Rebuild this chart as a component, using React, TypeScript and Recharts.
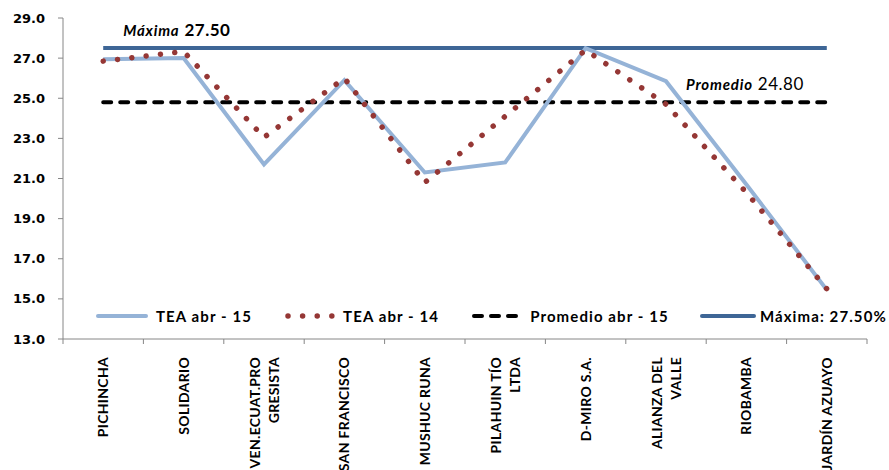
import React from 'react';
import { LineChart, Line, XAxis, YAxis, Legend } from 'recharts';

const categories = [
  'PICHINCHA',
  'SOLIDARIO',
  'VEN.ECUAT.PRO\nGRESISTA',
  'SAN FRANCISCO',
  'MUSHUC RUNA',
  'PILAHUIN TÍO\nLTDA',
  'D-MIRO S.A.',
  'ALIANZA DEL\nVALLE',
  'RIOBAMBA',
  'JARDÍN AZUAYO',
];
const teaAbr15 = [26.95, 27.0, 21.7, 25.9, 21.3, 21.8, 27.5, 25.85, 20.7, 15.45];
const teaAbr14 = [26.85, 27.33, 23.05, 26.0, 20.8, 24.1, 27.4, 24.7, 20.3, 15.5];
const promedioAbr15 = [24.8, 24.8, 24.8, 24.8, 24.8, 24.8, 24.8, 24.8, 24.8, 24.8];
const maxima = [27.5, 27.5, 27.5, 27.5, 27.5, 27.5, 27.5, 27.5, 27.5, 27.5];
const yTicks = [13, 15, 17, 19, 21, 23, 25, 27, 29];

const data = categories.map((name, i) => ({
  name,
  tea15: teaAbr15[i],
  tea14: teaAbr14[i],
  prom: promedioAbr15[i],
  max: maxima[i],
}));

const W = 889;
const H = 470;
const MARGIN = { top: 18, right: 22, left: 0, bottom: 0 };
const Y_AXIS_W = 63;
const BAND = (W - Y_AXIS_W - MARGIN.right) / categories.length;

const AXIS = '#868686';
const LIGHT_BLUE = '#95b3d7';
const DARK_RED = '#953735';
const MAX_BLUE = '#3e6696';
const FONT = 'Lato, "Open Sans", sans-serif';

const CategoryTick = (props: any) => {
  const { x, y, payload, index } = props;
  const lines = String(payload.value).split('\n');
  const offsets = lines.length === 1 ? [5] : [-4.5, 14.5];
  const half = BAND / 2;
  return (
    <g>
      <line x1={x - half} y1={y} x2={x - half} y2={y + 5} stroke={AXIS} />
      {index === categories.length - 1 && (
        <line x1={x + half} y1={y} x2={x + half} y2={y + 5} stroke={AXIS} />
      )}
      <text
        transform={`translate(${x},${y + 18}) rotate(-90)`}
        textAnchor="end"
        fontFamily={FONT}
        fontWeight="bold"
        fontSize={14}
        letterSpacing={0.3}
        fill="#000"
      >
        {lines.map((l, i) => (
          <tspan key={i} x={0} y={offsets[i]}>
            {l}
          </tspan>
        ))}
      </text>
    </g>
  );
};

// data label shown on a single point only, like the Excel callouts
const pointLabel = (at: number, title: string, value: string, valueBold: boolean) => (props: any) => {
  const { x, y, index } = props;
  if (index !== at) return null;
  return (
    <text x={x + 20} y={y - 12} fontFamily={FONT} fill="#000">
      <tspan fontStyle="italic" fontWeight="bold" fontSize={15} letterSpacing={0.8}>
        {title}
      </tspan>
      <tspan dx={5} fontWeight={valueBold ? 'bold' : 'normal'} fontSize={17} letterSpacing={0.5}>
        {value}
      </tspan>
    </text>
  );
};

const legendOrder = ['tea15', 'tea14', 'prom', 'max'];

const Swatch = ({ dataKey }: { dataKey: string }) => {
  if (dataKey === 'tea15')
    return <line x1={2} y1={6} x2={50} y2={6} stroke={LIGHT_BLUE} strokeWidth={4} strokeLinecap="round" />;
  if (dataKey === 'tea14')
    return (
      <line x1={5} y1={6} x2={50} y2={6} stroke={DARK_RED} strokeWidth={5.5} strokeLinecap="round" strokeDasharray="0.01 14.6" />
    );
  if (dataKey === 'prom')
    return (
      <line x1={4} y1={6} x2={50} y2={6} stroke="#000" strokeWidth={4} strokeLinecap="round" strokeDasharray="8 9" />
    );
  return <line x1={2} y1={6} x2={54} y2={6} stroke={MAX_BLUE} strokeWidth={4} strokeLinecap="round" />;
};

const renderLegend = (props: any) => {
  const items = [...(props.payload || [])].sort(
    (a: any, b: any) => legendOrder.indexOf(a.dataKey) - legendOrder.indexOf(b.dataKey)
  );
  return (
    <div style={{ display: 'flex', alignItems: 'center' }}>
      {items.map((it: any) => (
        <div key={it.dataKey} style={{ display: 'flex', alignItems: 'center', marginRight: 31 }}>
          <svg width={56} height={12} style={{ marginRight: 4 }}>
            <Swatch dataKey={it.dataKey} />
          </svg>
          <span
            style={{
              fontFamily: FONT,
              fontWeight: 'bold',
              fontSize: 15,
              letterSpacing: 1.1,
              color: '#000',
              whiteSpace: 'nowrap',
            }}
          >
            {it.value}
          </span>
        </div>
      ))}
    </div>
  );
};

export default function App() {
  return (
    <div style={{ position: 'absolute', left: 0, top: 0, width: W, height: H, background: '#fff' }}>
      <LineChart width={W} height={H} data={data} margin={MARGIN}>
        <XAxis
          dataKey="name"
          interval={0}
          height={H - MARGIN.top - 321}
          padding={{ left: BAND / 2, right: BAND / 2 }}
          axisLine={{ stroke: AXIS }}
          tickLine={false}
          tickSize={0}
          tickMargin={0}
          tick={<CategoryTick />}
        />
        <YAxis
          width={Y_AXIS_W}
          domain={[13, 29]}
          ticks={yTicks}
          interval={0}
          axisLine={{ stroke: AXIS }}
          tickLine={{ stroke: AXIS }}
          tickSize={5}
          tickMargin={13}
          tickFormatter={(v: number) => v.toFixed(1)}
          tick={{ fill: '#000', fontFamily: 'DejaVu Sans', fontWeight: 'bold', fontSize: 13 }}
        />
        <Legend
          layout="horizontal"
          verticalAlign="middle"
          align="center"
          content={renderLegend}
          wrapperStyle={{ position: 'absolute', left: 96, top: 307, width: 800 }}
        />
        <Line
          dataKey="prom"
          name="Promedio abr - 15"
          stroke="#000"
          strokeWidth={4}
          strokeLinecap="round"
          strokeDasharray="8 9"
          dot={false}
          activeDot={false}
          isAnimationActive={false}
          label={pointLabel(7, 'Promedio', '24.80', false)}
        />
        <Line
          dataKey="max"
          name="Máxima: 27.50%"
          stroke={MAX_BLUE}
          strokeWidth={4}
          dot={false}
          activeDot={false}
          isAnimationActive={false}
          label={pointLabel(0, 'Máxima', '27.50', true)}
        />
        <Line
          dataKey="tea15"
          name="TEA abr - 15"
          stroke={LIGHT_BLUE}
          strokeWidth={4}
          dot={false}
          activeDot={false}
          isAnimationActive={false}
        />
        <Line
          dataKey="tea14"
          name="TEA abr - 14"
          stroke={DARK_RED}
          strokeWidth={5.5}
          strokeLinecap="round"
          strokeDasharray="0.01 14.4"
          dot={false}
          activeDot={false}
          isAnimationActive={false}
        />
      </LineChart>
    </div>
  );
}
